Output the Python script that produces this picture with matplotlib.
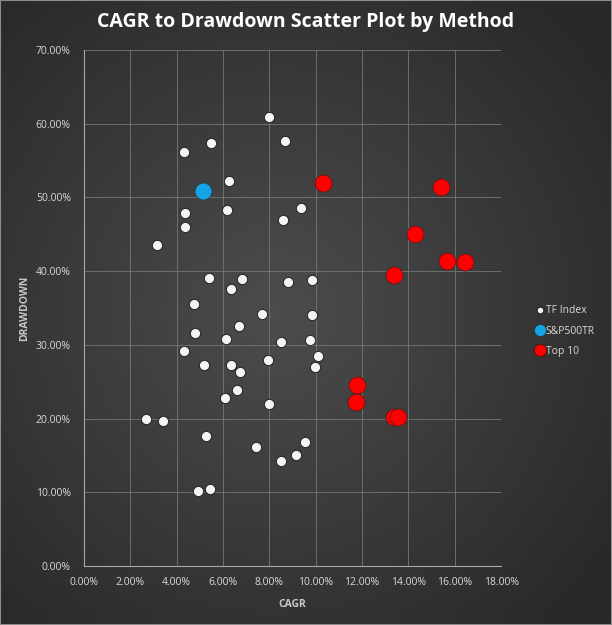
import numpy as np
import matplotlib
matplotlib.use('Agg')
import matplotlib.pyplot as plt
from matplotlib.ticker import PercentFormatter, MultipleLocator
from matplotlib.lines import Line2D
from matplotlib.patches import Rectangle

# values in percent
tf_cagr = [7.99, 8.69, 5.48, 4.30, 6.24, 6.16, 4.35, 9.35, 8.60, 4.35, 3.14,
           5.41, 6.83, 6.33, 8.80, 9.86, 4.73, 7.70, 9.86, 6.70, 4.77, 6.11,
           8.52, 9.74, 4.30, 7.94, 10.08, 9.95, 5.19, 6.33, 6.75, 6.59, 6.07,
           8.00, 2.66, 3.39, 5.27, 7.42, 9.52, 9.16, 8.52, 4.90, 5.42]
tf_dd = [60.9, 57.7, 57.4, 56.2, 52.2, 48.3, 47.9, 48.5, 47.0, 46.0, 43.6,
         39.1, 38.9, 37.6, 38.5, 38.8, 35.5, 34.2, 34.0, 32.5, 31.6, 30.8,
         30.4, 30.7, 29.2, 28.0, 28.5, 27.0, 27.2, 27.2, 26.3, 23.9, 22.8,
         22.0, 19.9, 19.7, 17.7, 16.2, 16.8, 15.0, 14.2, 10.2, 10.5]

sp_cagr = [5.12]
sp_dd = [50.9]

top_cagr = [10.33, 15.42, 14.27, 15.68, 16.43, 13.40, 11.80, 11.74, 13.38, 13.55]
top_dd = [52.0, 51.4, 45.0, 41.4, 41.3, 39.5, 24.5, 22.3, 20.2, 20.2]

plt.rcParams['font.family'] = ['Open Sans', 'DejaVu Sans']

fig = plt.figure(figsize=(6.12, 6.25), dpi=100)

# radial gradient background
bg = fig.add_axes([0, 0, 1, 1], zorder=-5)
yy, xx = np.mgrid[-1:1:300j, -1:1:300j]
r = np.sqrt((xx + 0.1) ** 2 + yy ** 2)
shade = 0.30 - 0.14 * np.clip(r / 1.35, 0, 1)
bg.imshow(np.dstack([shade] * 3), extent=[0, 1, 0, 1], aspect='auto')
bg.set_xlim(0, 1)
bg.set_ylim(0, 1)
bg.axis('off')

ax = fig.add_axes([0.1373, 0.0944, 0.6814, 0.8256])
ax.set_facecolor('none')

ax.scatter(tf_cagr, tf_dd, s=55, color='#f2f4f8', edgecolor='#2a2a2a',
           linewidth=0.8, zorder=3)
ax.scatter(sp_cagr, sp_dd, s=150, color='#14a3e6', edgecolor='#2f3a40',
           linewidth=0.6, zorder=3)
ax.scatter(top_cagr, top_dd, s=150, color='#ff0000', edgecolor='#5a1a1a',
           linewidth=0.6, zorder=3)

ax.set_xlim(0, 18)
ax.set_ylim(0, 70)
ax.xaxis.set_major_locator(MultipleLocator(2))
ax.yaxis.set_major_locator(MultipleLocator(10))
ax.xaxis.set_major_formatter(PercentFormatter(100, decimals=2))
ax.yaxis.set_major_formatter(PercentFormatter(100, decimals=2))
ax.grid(True, color='#767676', linewidth=0.6)
ax.set_axisbelow(True)
for s in ['top', 'right']:
    ax.spines[s].set_visible(False)
ax.spines['bottom'].set_color('#a8a8a8')
ax.spines['left'].set_color('#a8a8a8')
ax.tick_params(length=0, colors='#d9d9d9', labelsize=7.5)
ax.tick_params(axis='y', pad=9.5)
ax.tick_params(axis='x', pad=8)

ax.set_xlabel('CAGR', color='#c8c8c8', fontsize=7.5, fontweight='bold', labelpad=8)
ax.set_ylabel('DRAWDOWN', color='#c8c8c8', fontsize=7.5, fontweight='bold', labelpad=4)

fig.text(0.5, 0.965, 'CAGR to Drawdown Scatter Plot by Method', ha='center',
         va='center', color='white', fontsize=14, fontweight='bold')

handles = [
    Line2D([], [], marker='o', linestyle='none', markersize=5,
           markerfacecolor='#f2f4f8', markeredgecolor='#2a2a2a', label='TF Index'),
    Line2D([], [], marker='o', linestyle='none', markersize=9,
           markerfacecolor='#14a3e6', markeredgecolor='#2f3a40', label='S&P500TR'),
    Line2D([], [], marker='o', linestyle='none', markersize=9,
           markerfacecolor='#ff0000', markeredgecolor='#5a1a1a', label='Top 10'),
]
fig.legend(handles=handles, loc='center left', bbox_to_anchor=(0.858, 0.47),
           frameon=False, labelcolor='#d9d9d9', fontsize=7.5, handletextpad=0.1,
           handlelength=1.0, labelspacing=0.9)

fig.patches.append(Rectangle((0, 0), 1, 1, transform=fig.transFigure, fill=False,
                             edgecolor='#8c8c8c', linewidth=1.5))

fig.savefig('out.png', dpi=100)
